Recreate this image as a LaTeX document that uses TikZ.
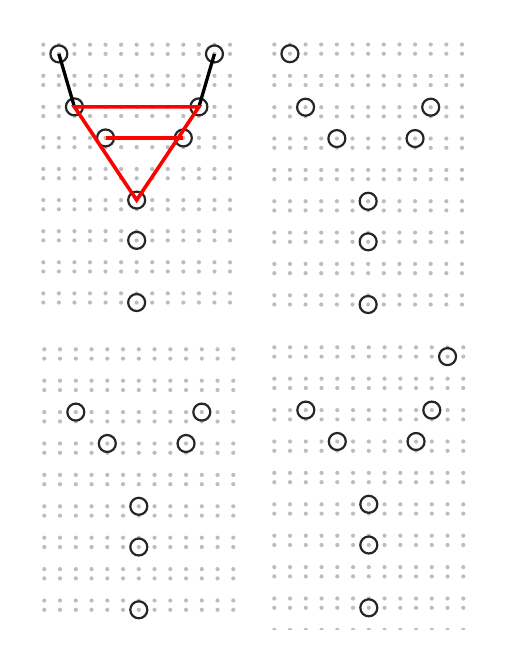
\documentclass[tikz,border=0pt]{standalone}
\begin{document}
\begin{tikzpicture}[x=1pt,y=-1pt,
  dotc/.style={fill=gray!52},
  ring/.style={circle,draw=black!85,line width=2.2pt,minimum size=17pt,inner sep=0pt},
  blk/.style={line width=3.3pt,black},
  rd/.style={line width=3.6pt,red,line join=miter}]
\useasboundingbox (0,0) rectangle (509,662);
% grid macro: x0, dx, y0, dy, off
\newcommand\mydotgrid[5]{%
  \foreach \i in {0,...,12}{\foreach \j in {0,...,8}{%
    \fill[dotc] ({#1+\i*#2},{#3+\j*#4}) circle (2.1);
    \fill[dotc] ({#1+\i*#2},{#3+\j*#4+#5}) circle (2.1);}}}
% panel parameters
\def\Ax{43.3}\def\Adx{15.56}\def\Ay{44.7}\def\Ady{31.08}\def\Ao{9.2}
\def\Bx{274.3}\def\Bdx{15.64}\def\By{44.5}\def\Bdy{31.35}\def\Bo{9.2}
\def\Cx{44.3}\def\Cdx{15.75}\def\Cy{349.3}\def\Cdy{31.4}\def\Co{9.3}
\def\Dx{274.3}\def\Ddx{15.75}\def\Dy{347.3}\def\Ddy{31.4}\def\Do{9.3}
\mydotgrid{\Ax}{\Adx}{\Ay}{\Ady}{\Ao}
\mydotgrid{\Bx}{\Bdx}{\By}{\Bdy}{\Bo}
\mydotgrid{\Cx}{\Cdx}{\Cy}{\Cdy}{\Co}
\mydotgrid{\Dx}{\Ddx}{\Dy}{\Ddy}{\Do}
\begin{scope}
  \clip (260,620) rectangle (480,629);
  \foreach \i in {0,...,12}{\fill[dotc] ({\Dx+\i*\Ddx},{\Dy+9*\Ddy}) circle (2.1);}
\end{scope}
% panel A circles
\node[ring] (a1) at ({\Ax+1*\Adx},{\Ay+0*\Ady+\Ao}) {};
\node[ring] (a2) at ({\Ax+11*\Adx},{\Ay+0*\Ady+\Ao}) {};
\node[ring] (a3) at ({\Ax+2*\Adx},{\Ay+2*\Ady}) {};
\node[ring] (a4) at ({\Ax+10*\Adx},{\Ay+2*\Ady}) {};
\node[ring] (a5) at ({\Ax+4*\Adx},{\Ay+3*\Ady}) {};
\node[ring] (a6) at ({\Ax+9*\Adx},{\Ay+3*\Ady}) {};
\node[ring] (a7) at ({\Ax+6*\Adx},{\Ay+5*\Ady}) {};
\node[ring] (a8) at ({\Ax+6*\Adx},{\Ay+6*\Ady+\Ao}) {};
\node[ring] (a9) at ({\Ax+6*\Adx},{\Ay+8*\Ady+\Ao}) {};
% panel B circles
\node[ring] (b1) at ({\Bx+1*\Bdx},{\By+0*\Bdy+\Bo}) {};
\node[ring] (b3) at ({\Bx+2*\Bdx},{\By+2*\Bdy}) {};
\node[ring] (b4) at ({\Bx+10*\Bdx},{\By+2*\Bdy}) {};
\node[ring] (b5) at ({\Bx+4*\Bdx},{\By+3*\Bdy}) {};
\node[ring] (b6) at ({\Bx+9*\Bdx},{\By+3*\Bdy}) {};
\node[ring] (b7) at ({\Bx+6*\Bdx},{\By+5*\Bdy}) {};
\node[ring] (b8) at ({\Bx+6*\Bdx},{\By+6*\Bdy+\Bo}) {};
\node[ring] (b9) at ({\Bx+6*\Bdx},{\By+8*\Bdy+\Bo}) {};
% panel C circles
\node[ring] (c3) at ({\Cx+2*\Cdx},{\Cy+2*\Cdy}) {};
\node[ring] (c4) at ({\Cx+10*\Cdx},{\Cy+2*\Cdy}) {};
\node[ring] (c5) at ({\Cx+4*\Cdx},{\Cy+3*\Cdy}) {};
\node[ring] (c6) at ({\Cx+9*\Cdx},{\Cy+3*\Cdy}) {};
\node[ring] (c7) at ({\Cx+6*\Cdx},{\Cy+5*\Cdy}) {};
\node[ring] (c8) at ({\Cx+6*\Cdx},{\Cy+6*\Cdy+\Co}) {};
\node[ring] (c9) at ({\Cx+6*\Cdx},{\Cy+8*\Cdy+\Co}) {};
% panel D circles
\node[ring] (d2) at ({\Dx+11*\Ddx},{\Dy+0*\Ddy+\Do}) {};
\node[ring] (d3) at ({\Dx+2*\Ddx},{\Dy+2*\Ddy}) {};
\node[ring] (d4) at ({\Dx+10*\Ddx},{\Dy+2*\Ddy}) {};
\node[ring] (d5) at ({\Dx+4*\Ddx},{\Dy+3*\Ddy}) {};
\node[ring] (d6) at ({\Dx+9*\Ddx},{\Dy+3*\Ddy}) {};
\node[ring] (d7) at ({\Dx+6*\Ddx},{\Dy+5*\Ddy}) {};
\node[ring] (d8) at ({\Dx+6*\Ddx},{\Dy+6*\Ddy+\Do}) {};
\node[ring] (d9) at ({\Dx+6*\Ddx},{\Dy+8*\Ddy+\Do}) {};
% connectors in panel A
\draw[blk] (a1.center) -- (a3.center);
\draw[blk] (a2.center) -- (a4.center);
\draw[rd] (a3.center) -- (a4.center) -- (a7.center) -- cycle;
\draw[rd] (a5.center) -- (a6.center);
\end{tikzpicture}
\end{document}
